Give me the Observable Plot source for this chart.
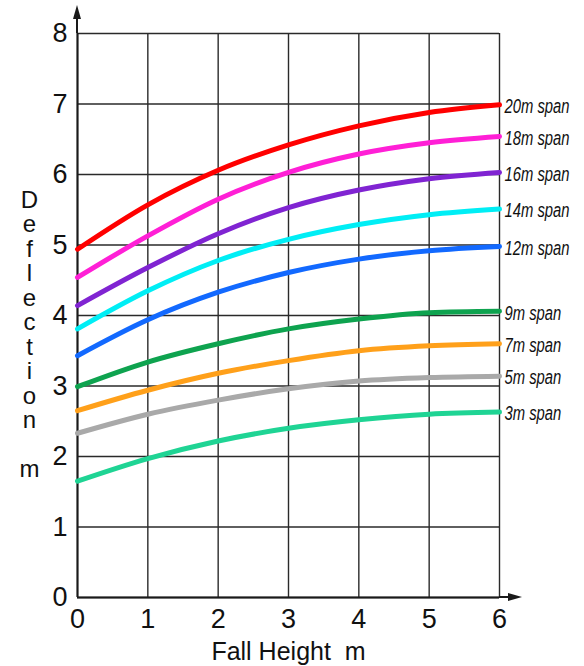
<!DOCTYPE html>
<html>
<head>
<meta charset="utf-8">
<script src="https://cdn.jsdelivr.net/npm/d3@7"></script>
<script src="https://cdn.jsdelivr.net/npm/@observablehq/plot@0.6"></script>
<style>
  html, body { margin: 0; padding: 0; background: #fff; }
  #chart svg { display: block; }
</style>
</head>
<body>
<div id="chart"></div>
<script>
// Fall height (m) at which each curve was read
const fallHeights = [0, 1, 2, 3, 4, 5, 6];
const xTicks = [0, 1, 2, 3, 4, 5, 6];
const yTicks = [0, 1, 2, 3, 4, 5, 6, 7, 8];

const spans = ["20m span", "18m span", "16m span", "14m span", "12m span", "9m span", "7m span", "5m span", "3m span"];
const spanColors = ["#ff0000", "#ff1fd6", "#8024d2", "#00eef5", "#1269ff", "#0ea34f", "#ffa01a", "#a9a9a9", "#1fd494"];

// Deflection (m) per span
const span20 = [4.94, 5.57, 6.06, 6.42, 6.69, 6.88, 6.99];
const span18 = [4.54, 5.13, 5.65, 6.03, 6.29, 6.45, 6.54];
const span16 = [4.14, 4.68, 5.16, 5.53, 5.78, 5.94, 6.03];
const span14 = [3.81, 4.35, 4.78, 5.08, 5.29, 5.43, 5.51];
const span12 = [3.43, 3.94, 4.33, 4.61, 4.80, 4.92, 4.98];
const span9  = [2.99, 3.34, 3.60, 3.81, 3.95, 4.04, 4.06];
const span7  = [2.65, 2.94, 3.18, 3.36, 3.50, 3.57, 3.60];
const span5  = [2.33, 2.60, 2.80, 2.96, 3.07, 3.12, 3.14];
const span3  = [1.65, 1.97, 2.22, 2.40, 2.52, 2.60, 2.63];

const xLabel = "Fall Height\u00a0 m";
const yLabelLetters = ["D", "e", "f", "l", "e", "c", "t", "i", "o", "n", "", "m"];

const series = [span20, span18, span16, span14, span12, span9, span7, span5, span3];
const data = spans.flatMap((s, i) => fallHeights.map((h, j) => ({span: s, h, d: series[i][j]})));

const chart = Plot.plot({
  width: 584,
  height: 666,
  marginLeft: 77,
  marginRight: 85,
  marginTop: 33,
  marginBottom: 69,
  style: {fontFamily: "'Liberation Sans', Arial, sans-serif", background: "#fff", color: "#111"},
  x: {domain: [0, 6]},
  y: {domain: [0, 8]},
  color: {domain: spans, range: spanColors},
  marks: [
    Plot.gridX(xTicks, {stroke: "#2a2a2a", strokeOpacity: 1, strokeWidth: 1.4}),
    Plot.gridY(yTicks, {stroke: "#2a2a2a", strokeOpacity: 1, strokeWidth: 1.4}),
    Plot.axisX(xTicks, {tickSize: 0, tickPadding: 11, fontSize: 27, label: null, tickFormat: d => String(d)}),
    Plot.axisY(yTicks, {tickSize: 0, tickPadding: 10, fontSize: 27, label: null, tickFormat: d => String(d)}),
    Plot.ruleX([0], {stroke: "#1a1a1a", strokeWidth: 2}),
    Plot.ruleY([0], {stroke: "#1a1a1a", strokeWidth: 2}),
    Plot.line(data, {x: "h", y: "d", z: "span", stroke: "span", strokeWidth: 5, curve: "monotone-x"}),
    Plot.text(data, Plot.selectLast({
      x: "h", y: "d", z: "span", text: "span",
      textAnchor: "start", dx: 5, dy: 2, fontStyle: "italic", fontSize: 19.5,
      fill: "#111", className: "span-label"
    })),
    Plot.text([xLabel], {text: d => d, frameAnchor: "bottom", dy: 62, fontSize: 25, fill: "#111"}),
    Plot.text([yLabelLetters.join("\n")], {text: d => d, frameAnchor: "left", textAnchor: "middle", dx: -48, dy: 19, fontSize: 24, lineHeight: 1.02, fill: "#111"})
  ]
});

// axis arrowheads, positioned with the plot's own scales
const sx = chart.scale("x"), sy = chart.scale("y");
const x0 = sx.apply(0), xEnd = sx.apply(6), y0 = sy.apply(0), yTop = sy.apply(8);
const svg = d3.select(chart);
const g = svg.append("g").attr("fill", "#1a1a1a").attr("stroke", "#1a1a1a");
g.append("line").attr("x1", x0).attr("x2", x0).attr("y1", yTop).attr("y2", yTop - 20).attr("stroke-width", 2);
g.append("path").attr("stroke", "none").attr("d", `M${x0},${yTop - 28}L${x0 - 4},${yTop - 14}L${x0 + 4},${yTop - 14}Z`);
g.append("line").attr("x1", xEnd).attr("x2", xEnd + 14).attr("y1", y0).attr("y2", y0).attr("stroke-width", 2);
g.append("path").attr("stroke", "none").attr("d", `M${xEnd + 23},${y0}L${xEnd + 9},${y0 - 4}L${xEnd + 9},${y0 + 4}Z`);

document.getElementById("chart").appendChild(chart);

// condensed look for the span labels (reference uses a narrow italic face)
svg.selectAll(".span-label text").each(function () {
  const t = this.getAttribute("transform");
  if (t) {
    this.setAttribute("transform", t + " scale(0.76,1)");
  } else {
    const x = this.getAttribute("x") || 0, y = this.getAttribute("y") || 0;
    this.setAttribute("x", 0);
    this.setAttribute("y", 0);
    this.setAttribute("transform", `translate(${x},${y}) scale(0.76,1)`);
  }
});
</script>
</body>
</html>
